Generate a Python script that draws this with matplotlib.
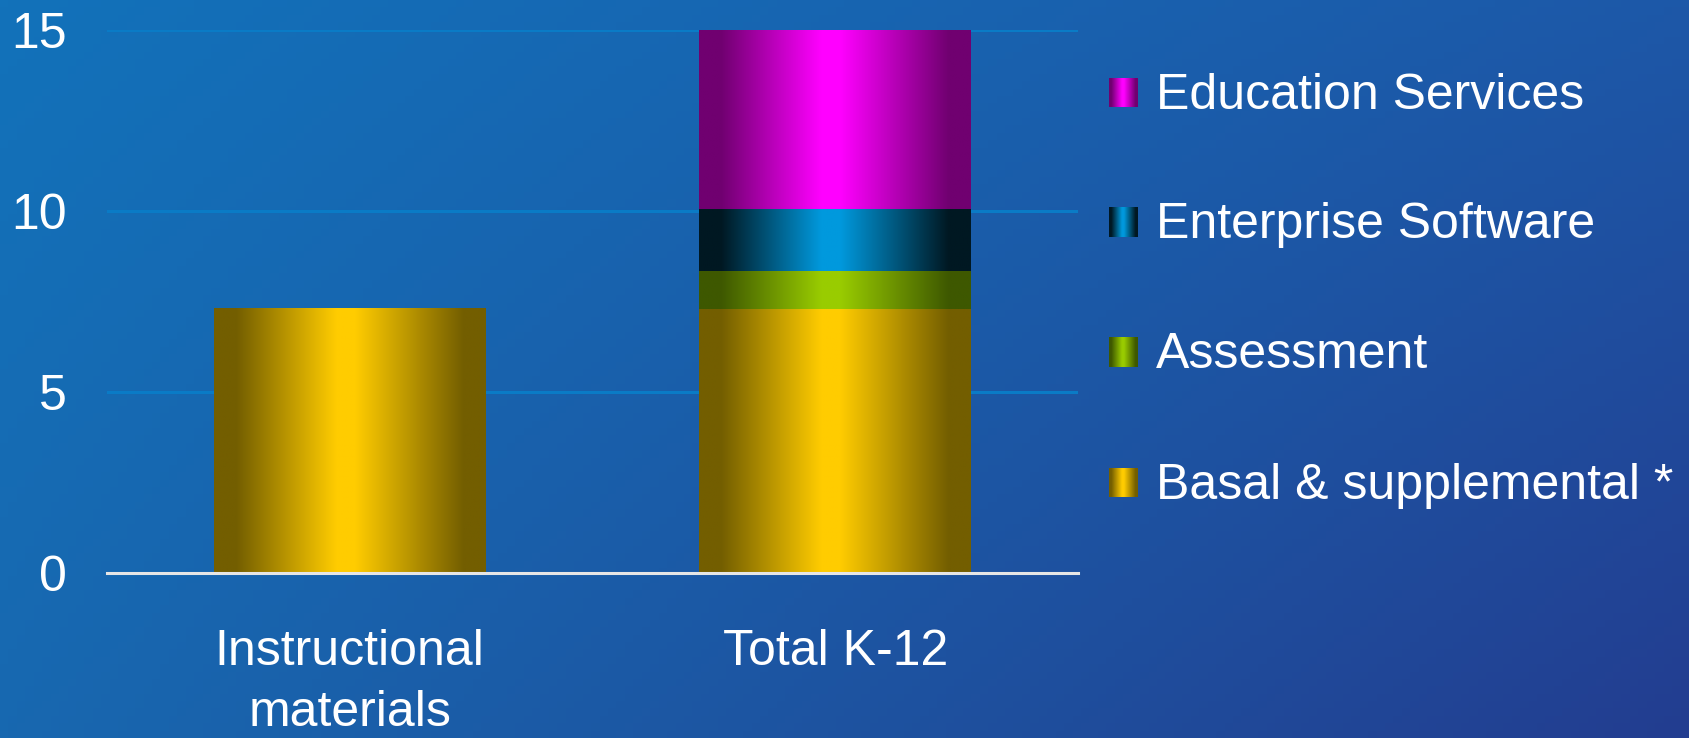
import numpy as np
import matplotlib
matplotlib.use("Agg")
import matplotlib.pyplot as plt
from matplotlib.colors import LinearSegmentedColormap, to_rgb

plt.rcParams['font.family'] = ['Liberation Sans', 'DejaVu Sans']

# ---- data ----
categories = ["Instructional\nmaterials", "Total K-12"]
series_names = ["Basal & supplemental *", "Assessment", "Enterprise Software", "Education Services"]
basal = [7.3, 7.3]
assessment = [0.0, 1.05]
enterprise = [0.0, 1.7]
education = [0.0, 4.95]
yticks = [0, 5, 10, 15]

series_values = [basal, assessment, enterprise, education]
base_colors = ["#FFCC00", "#99CC00", "#0099DD", "#FF00FF"]
dark_colors = ["#735E00", "#3E5800", "#001822", "#700070"]

W, H, DPI = 1689, 738, 100
fig = plt.figure(figsize=(W / DPI, H / DPI), dpi=DPI)

# ---- background diagonal gradient ----
bg = fig.add_axes([0, 0, 1, 1], zorder=-10)
bg.set_axis_off()
tl = np.array(to_rgb("#1272BA"))
tr = np.array(to_rgb("#1D58A8"))
bl = np.array(to_rgb("#1868B0"))
br = np.array(to_rgb("#233D90"))
u = np.linspace(0, 1, 200)[None, :, None]
v = np.linspace(0, 1, 100)[:, None, None]
img = (1 - u) * (1 - v) * tl + u * (1 - v) * tr + (1 - u) * v * bl + u * v * br
bg.imshow(img, aspect='auto', extent=[0, 1, 0, 1], origin='upper')
bg.set_xlim(0, 1)
bg.set_ylim(0, 1)

# ---- main axes ----
ax = fig.add_axes([107 / W, 1 - 573 / H, (1078 - 107) / W, (573 - 30) / H])
ax.set_facecolor('none')
x = np.arange(len(categories))
bw = 0.56

def cmap_for(base, dark):
    return LinearSegmentedColormap.from_list(
        "g", [(0.0, dark), (0.08, dark), (0.45, base), (0.52, base), (0.92, dark), (1.0, dark)])

grad = np.linspace(0, 1, 256)[None, :]

bottom = np.zeros(len(categories))
for vals, base, dark in zip(series_values, base_colors, dark_colors):
    vals = np.array(vals)
    bars = ax.bar(x, vals, bw, bottom=bottom, color='none', edgecolor='none', zorder=3)
    cm = cmap_for(base, dark)
    for rect in bars:
        if rect.get_height() <= 0:
            continue
        x0, y0 = rect.get_x(), rect.get_y()
        ax.imshow(grad, cmap=cm, aspect='auto', zorder=3,
                  extent=[x0, x0 + rect.get_width(), y0, y0 + rect.get_height()],
                  interpolation='bilinear')
    bottom = bottom + vals

ax.set_xlim(-0.5, 1.5)
ax.set_ylim(0, 15)
ax.set_yticks(yticks)
ax.set_yticklabels([str(t) for t in yticks])
ax.set_xticks(x)
ax.set_xticklabels(categories, linespacing=1.42)
ax.tick_params(axis='y', length=0, pad=29, labelsize=36, colors='white')
ax.tick_params(axis='x', length=0, pad=40.5, labelsize=36, colors='white')
for s in ['top', 'right', 'left']:
    ax.spines[s].set_visible(False)
ax.spines['bottom'].set_color('#E6E6E6')
ax.spines['bottom'].set_linewidth(2.2)
ax.spines['bottom'].set_zorder(4)
for t in yticks[1:]:
    ax.axhline(t, color='#0A7BC6', lw=2.2, zorder=1)

# ---- legend (manual, gradient swatches) ----
legend_rows = [92.5, 222, 352, 482.5]  # swatch pixel centres, top to bottom
order = [3, 2, 1, 0]
for yc, idx in zip(legend_rows, order):
    sw = fig.add_axes([1109 / W, 1 - (yc + 15) / H, 29 / W, 30 / H])
    sw.set_axis_off()
    sw.imshow(grad, cmap=cmap_for(base_colors[idx], dark_colors[idx]), aspect='auto',
              interpolation='bilinear')
    fig.text(1156 / W, 1 - (yc + 3.5) / H, series_names[idx], color='white', fontsize=36,
             va='center', ha='left')

fig.savefig("out.png", dpi=DPI)
